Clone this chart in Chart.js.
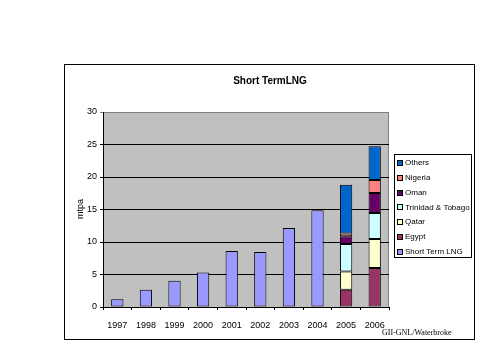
<!DOCTYPE html>
<html lang="en">
<head>
    <meta charset="UTF-8">
    <title>Short Term LNG</title>
    <script src="https://cdn.jsdelivr.net/npm/chart.js"></script>
    <style>
        html, body { margin: 0; padding: 0; background: #fff; }
        #wrap { width: 480px; height: 360px; }
    </style>
</head>
<body>
    <div id="wrap"><canvas id="lng-chart" width="480" height="360"></canvas></div>

    <script>
        const years = ['1997', '1998', '1999', '2000', '2001', '2002', '2003', '2004', '2005', '2006'];
        const shortTerm = [1.2, 2.65, 4.05, 5.3, 8.6, 8.45, 12.15, 14.9, null, null];
        const egypt    = [null, null, null, null, null, null, null, null, 2.65, 6.0];
        const qatar    = [null, null, null, null, null, null, null, null, 2.8, 4.45];
        const trinidad = [null, null, null, null, null, null, null, null, 4.25, 4.0];
        const oman     = [null, null, null, null, null, null, null, null, 1.2, 3.1];
        const nigeria  = [null, null, null, null, null, null, null, null, 0.4, 2.0];
        const others   = [null, null, null, null, null, null, null, null, 7.5, 5.2];
        const yTicks = [0, 5, 10, 15, 20, 25, 30];

        const sans = '"Liberation Sans", Arial, sans-serif';

        const series = [
            { label: 'Short Term LNG', data: shortTerm, color: '#9999FF' },
            { label: 'Egypt', data: egypt, color: '#993366' },
            { label: 'Qatar', data: qatar, color: '#FFFFCC' },
            { label: 'Trinidad & Tobago', data: trinidad, color: '#CCFFFF' },
            { label: 'Oman', data: oman, color: '#660066' },
            { label: 'Nigeria', data: nigeria, color: '#FF8080' },
            { label: 'Others', data: others, color: '#0066CC' }
        ];

        // frame, plot background, title, axis title, legend and source note
        const decor = {
            id: 'decor',
            beforeDraw(chart) {
                const ctx = chart.ctx;
                const a = chart.chartArea;
                ctx.save();
                ctx.fillStyle = '#fff';
                ctx.fillRect(0, 0, chart.width, chart.height);
                ctx.strokeStyle = '#000';
                ctx.lineWidth = 1;
                ctx.strokeRect(64.5, 64.5, 410, 275);
                ctx.fillStyle = '#C0C0C0';
                ctx.fillRect(a.left, a.top, a.right - a.left, a.bottom - a.top);
                ctx.strokeStyle = '#808080';
                ctx.strokeRect(a.left + 0.5, a.top + 0.5, a.right - a.left - 1, a.bottom - a.top);
                ctx.restore();
            },
            afterDraw(chart) {
                const ctx = chart.ctx;
                ctx.save();
                ctx.fillStyle = '#000';
                ctx.font = 'bold 10px ' + sans;
                ctx.textAlign = 'center';
                ctx.textBaseline = 'middle';
                ctx.fillText('Short TermLNG', 270, 81);

                ctx.save();
                ctx.translate(81, 209);
                ctx.rotate(-Math.PI / 2);
                ctx.font = '9px ' + sans;
                ctx.fillText('mtpa', 0, 0);
                ctx.restore();

                ctx.font = '8px "Liberation Serif", "Times New Roman", serif';
                ctx.textAlign = 'left';
                ctx.fillText('GII-GNL/Waterbroke', 382, 333);

                // legend box
                ctx.strokeStyle = '#000';
                ctx.fillStyle = '#fff';
                ctx.fillRect(394, 154, 77, 103);
                ctx.strokeRect(394.5, 154.5, 77, 103);
                ctx.font = '8px ' + sans;
                const ds = chart.data.datasets.slice().reverse();
                ds.forEach((d, i) => {
                    const y = 163 + i * 14.8;
                    ctx.fillStyle = d.backgroundColor;
                    ctx.fillRect(397, Math.round(y) - 3, 5, 5);
                    ctx.strokeStyle = '#000';
                    ctx.strokeRect(397.5, Math.round(y) - 2.5, 5, 5);
                    ctx.fillStyle = '#000';
                    ctx.fillText(d.label, 405, y);
                });
                ctx.restore();
            }
        };

        new Chart(document.getElementById('lng-chart'), {
            type: 'bar',
            data: {
                labels: years,
                datasets: series.map(s => ({
                    label: s.label,
                    data: s.data,
                    backgroundColor: s.color,
                    borderColor: '#000',
                    borderWidth: 1,
                    borderSkipped: false,
                    barPercentage: 0.43,
                    categoryPercentage: 1
                }))
            },
            options: {
                responsive: false,
                animation: false,
                layout: { padding: { left: 0, right: 91, top: 112, bottom: 0 } },
                plugins: {
                    legend: { display: false },
                    title: { display: false },
                    tooltip: { enabled: false }
                },
                scales: {
                    x: {
                        stacked: true,
                        afterFit: s => { s.height = 53; },
                        grid: { drawOnChartArea: false, drawTicks: true, tickLength: 3, color: '#000', offset: true },
                        border: { color: '#000' },
                        ticks: { color: '#000', font: { family: sans, size: 9 }, padding: 10, maxRotation: 0 }
                    },
                    y: {
                        stacked: true,
                        min: 0,
                        max: 30,
                        afterFit: s => { s.width = 103; },
                        afterBuildTicks: s => { s.ticks = yTicks.map(v => ({ value: v })); },
                        grid: {
                            color: c => (c.tick && c.tick.value === 30 ? '#808080' : '#000'),
                            tickLength: 3,
                            drawTicks: true
                        },
                        border: { color: '#000' },
                        ticks: { color: '#000', font: { family: sans, size: 9 }, padding: 3 }
                    }
                }
            },
            plugins: [decor]
        });
    </script>
</body>
</html>
